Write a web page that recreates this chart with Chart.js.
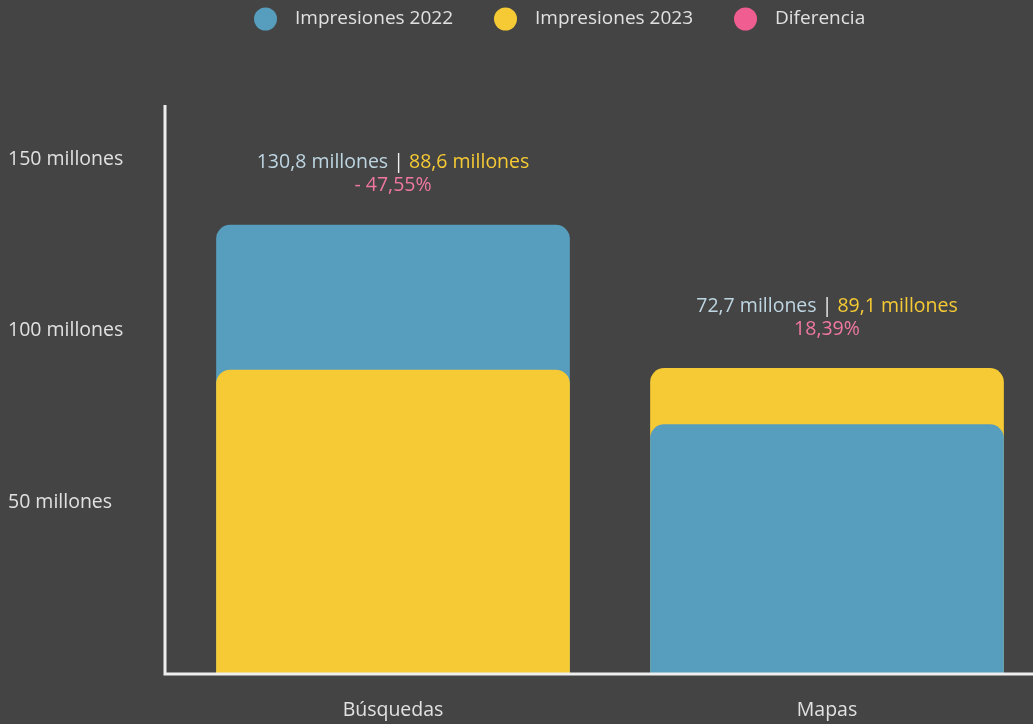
<!DOCTYPE html>
<html>
<head>
<meta charset="utf-8">
<script src="https://cdn.jsdelivr.net/npm/chart.js@4.4.0/dist/chart.umd.min.js"></script>
<style>
  html, body { margin: 0; padding: 0; background: #444444; overflow: hidden; }
  #wrap { width: 1044px; height: 724px; }
</style>
</head>
<body>
<div id="wrap"><canvas id="myChart"></canvas></div>
<script>
// categories and values (millones)
const categorias = ['Búsquedas', 'Mapas'];
const impresiones2022 = [130.8, 72.7];
const impresiones2023 = [88.6, 89.1];
const diferencia = [-47.55, 18.39];
const ticksY = [50, 100, 150];

const azul = 'rgb(87, 157, 190)';
const amarillo = 'rgb(246, 202, 52)';
const rosa = 'rgb(240, 94, 145)';
const textoClaro = 'rgb(225, 225, 225)';
const fuente = '"Open Sans"';

function fmt(v) {
    return v.toFixed(1).replace('.', ',');
}
function fmtPct(v) {
    let s = Math.abs(v).toFixed(2).replace('.', ',') + '%';
    return v < 0 ? '- ' + s : s;
}

// the smaller of the two bars goes in front, so split each year in back/front sets
function detras(a, b) { return a.map((v, i) => v >= b[i] ? v : null); }
function delante(a, b) { return a.map((v, i) => v < b[i] ? v : null); }

// legend drawn by hand (wider gap between dot and text than the built-in one)
const leyenda = {
    id: 'leyenda',
    afterDraw(chart) {
        const ctx = chart.ctx;
        const items = chart.data.datasets.filter(d => !d.label.endsWith(' '));
        ctx.save();
        ctx.font = '19px ' + fuente;
        ctx.textBaseline = 'middle';
        ctx.textAlign = 'left';
        let x = 254;
        const y = 19;
        items.forEach(function(d) {
            ctx.fillStyle = d.backgroundColor;
            ctx.beginPath();
            ctx.arc(x + 11.5, y, 11.5, 0, Math.PI * 2);
            ctx.fill();
            ctx.fillStyle = textoClaro;
            ctx.fillText(d.label, x + 41, y);
            x += 41 + ctx.measureText(d.label).width + 41;
        });
        ctx.restore();
    }
};

// axis lines + labels over the bars
const extras = {
    id: 'extras',
    afterDatasetsDraw(chart) {
        const ctx = chart.ctx;
        const area = chart.chartArea;
        const y = chart.scales.y;
        const x = chart.scales.x;
        ctx.save();
        ctx.strokeStyle = '#eeeeee';
        ctx.lineWidth = 3;
        ctx.beginPath();
        ctx.moveTo(area.left - 11, 105);
        ctx.lineTo(area.left - 11, area.bottom);
        ctx.lineTo(chart.width, area.bottom);
        ctx.stroke();

        ctx.font = '19.5px ' + fuente;
        ctx.textBaseline = 'middle';
        categorias.forEach(function(c, i) {
            const cx = x.getPixelForValue(i);
            const top = y.getPixelForValue(Math.max(impresiones2022[i], impresiones2023[i]));
            const a = fmt(impresiones2022[i]) + ' millones';
            const sep = ' | ';
            const b = fmt(impresiones2023[i]) + ' millones';
            const wa = ctx.measureText(a).width;
            const ws = ctx.measureText(sep).width;
            const wb = ctx.measureText(b).width;
            let sx = cx - (wa + ws + wb) / 2;
            const ly = top - 62;
            ctx.textAlign = 'left';
            ctx.fillStyle = 'rgb(190, 214, 226)';
            ctx.fillText(a, sx, ly);
            ctx.fillStyle = '#eeeeee';
            ctx.fillText(sep, sx + wa, ly);
            ctx.fillStyle = amarillo;
            ctx.fillText(b, sx + wa + ws, ly);
            ctx.textAlign = 'center';
            ctx.fillStyle = 'rgb(240, 120, 160)';
            ctx.fillText(fmtPct(diferencia[i]), cx, ly + 23);
        });
        ctx.restore();
    }
};

const ctx = document.getElementById('myChart').getContext('2d');
const myChart = new Chart(ctx, {
    type: 'bar',
    data: {
        labels: categorias,
        datasets: [{
            label: 'Impresiones 2022',
            data: delante(impresiones2022, impresiones2023),
            backgroundColor: azul,
            order: 0
        }, {
            label: 'Impresiones 2023',
            data: delante(impresiones2023, impresiones2022),
            backgroundColor: amarillo,
            order: 1
        }, {
            label: 'Diferencia',
            data: [],
            backgroundColor: rosa,
            order: 2
        }, {
            label: 'Impresiones 2022 ',
            data: detras(impresiones2022, impresiones2023),
            backgroundColor: azul,
            order: 3
        }, {
            label: 'Impresiones 2023 ',
            data: detras(impresiones2023, impresiones2022),
            backgroundColor: amarillo,
            order: 4
        }]
    },
    options: {
        responsive: true,
        maintainAspectRatio: false,
        animation: false,
        datasets: {
            bar: {
                barPercentage: 0.815,
                categoryPercentage: 1,
                borderRadius: { topLeft: 14, topRight: 14 },
                borderSkipped: 'bottom',
                borderWidth: 0
            }
        },
        layout: {
            padding: { left: 8, right: 0, top: 104, bottom: 0 }
        },
        plugins: {
            legend: { display: false },
            tooltip: { enabled: false }
        },
        scales: {
            x: {
                stacked: true,
                grid: { display: false, drawTicks: false },
                border: { display: false },
                afterFit: axis => { axis.height = 50; },
                ticks: {
                    color: textoClaro,
                    padding: 25,
                    font: { size: 19.5, family: 'Open Sans' }
                }
            },
            y: {
                stacked: false,
                min: 0,
                max: 166,
                afterBuildTicks: axis => { axis.ticks = ticksY.map(v => ({ value: v })); },
                afterFit: axis => { axis.width = 168; },
                grid: { display: false, drawTicks: false },
                border: { display: false },
                ticks: {
                    color: textoClaro,
                    crossAlign: 'far',
                    padding: 10,
                    font: { size: 19.5, family: 'Open Sans' },
                    callback: v => v + ' millones'
                }
            }
        }
    },
    plugins: [extras, leyenda]
});
</script>
</body>
</html>
